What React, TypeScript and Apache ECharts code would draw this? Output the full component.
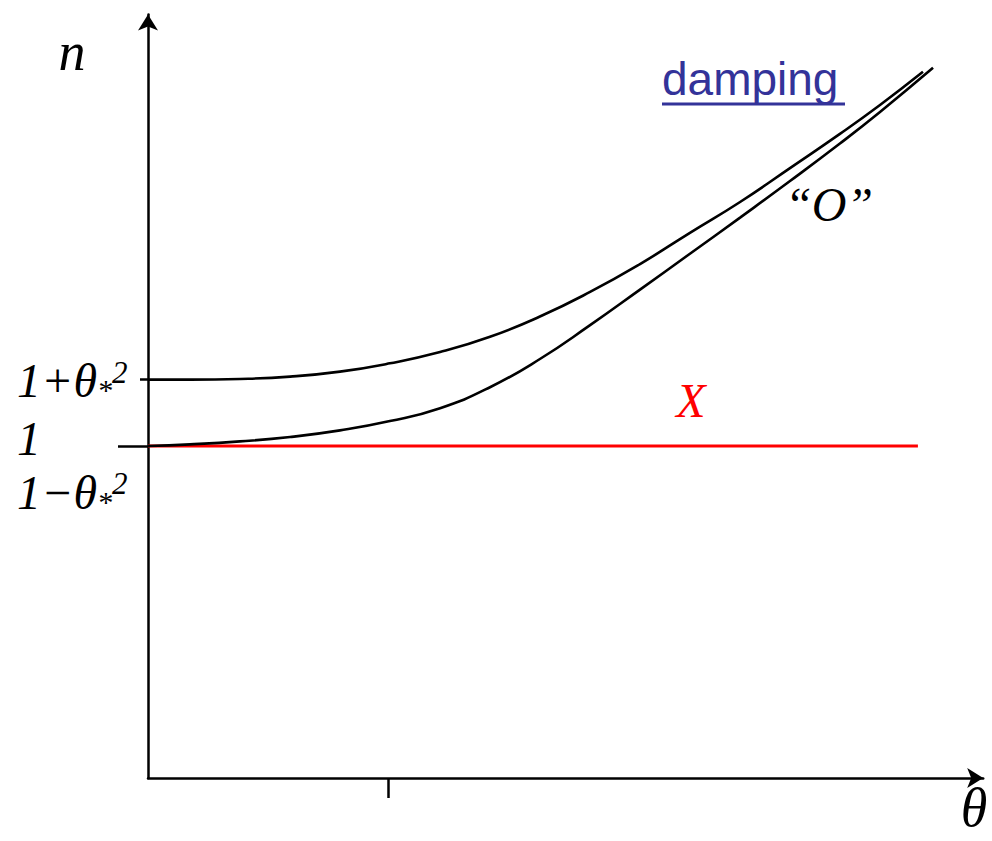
import React, { useEffect, useRef } from "react";
import * as echarts from "echarts";

// Axis extents (θ horizontally, n vertically)
const THETA_MAX = 3.48;
const N_MAX = 2.3;

// Upper curve, starting at n = 1 + θ*²
const upperTheta = [0, 0.175, 0.383, 0.592, 0.8, 1.008, 1.217, 1.425, 1.633, 1.842, 2.05, 2.258, 2.467, 2.675, 2.883, 3.05, 3.229];
const upperN = [1.2, 1.2, 1.202, 1.209, 1.224, 1.249, 1.283, 1.329, 1.39, 1.464, 1.548, 1.642, 1.735, 1.837, 1.94, 2.027, 2.127];

// Lower curve "O", starting at n = 1
const lowerTheta = [0, 0.175, 0.383, 0.592, 0.8, 1.008, 1.217, 1.425, 1.633, 1.842, 2.05, 2.258, 2.467, 2.675, 2.883, 3.05, 3.271];
const lowerN = [1.0, 1.005, 1.014, 1.027, 1.047, 1.075, 1.114, 1.177, 1.262, 1.364, 1.471, 1.579, 1.688, 1.798, 1.911, 2.006, 2.139];

// Flat "X" branch at n = 1
const xBranchTheta = [0, 3.208];
const xBranchN = [1, 1];

// Ticks and tick labels
const thetaTicks = [1];
const nShortTicks = [1.2];
const nLongTicks = [1];
const nLabelValues = [1.197, 1.024, 0.861];
const nLabelTexts = [
  "{m|1+θ}{sub|*}{sup|2}",
  "{m|1}",
  "{m|1−θ}{sub|*}{sup|2}",
];

const SERIF = "'Liberation Serif', 'Times New Roman', serif";
const SANS = "'Liberation Sans', Arial, sans-serif";

const zip = (xs: number[], ys: number[]) => xs.map((x, i) => [x, ys[i]]);

export default function App() {
  const ref = useRef<HTMLDivElement>(null);

  useEffect(() => {
    if (!ref.current) return;
    const chart = echarts.init(ref.current, undefined, { renderer: "svg" });

    const axisStroke = { color: "#000", width: 2.5 };

    chart.setOption({
      animation: false,
      backgroundColor: "#fff",
      grid: { left: 148, top: 14.4, width: 835.2, height: 763.6, containLabel: false },
      xAxis: {
        type: "value",
        min: 0,
        max: THETA_MAX,
        axisLine: {
          show: true,
          lineStyle: axisStroke,
          symbol: ["none", "arrow"],
          symbolSize: [15, 16],
        },
        axisTick: {
          show: true,
          customValues: thetaTicks,
          length: 20,
          inside: false,
          lineStyle: axisStroke,
        },
        axisLabel: { show: false },
        splitLine: { show: false },
      },
      yAxis: [
        {
          type: "value",
          min: 0,
          max: N_MAX,
          axisLine: {
            show: true,
            lineStyle: axisStroke,
            symbol: ["none", "arrow"],
            symbolSize: [15, 16],
          },
          axisTick: {
            show: true,
            customValues: nShortTicks,
            length: 8,
            inside: false,
            lineStyle: axisStroke,
          },
          axisLabel: {
            show: true,
            customValues: nLabelValues,
            align: "left",
            margin: 131,
            formatter: (v: number) => {
              const i = nLabelValues.findIndex((p) => Math.abs(p - v) < 1e-6);
              return i >= 0 ? nLabelTexts[i] : "";
            },
            rich: {
              m: {
                fontFamily: SERIF,
                fontStyle: "italic",
                fontSize: 48,
                lineHeight: 48,
                color: "#000",
              },
              sup: {
                fontFamily: SERIF,
                fontStyle: "italic",
                fontSize: 31,
                lineHeight: 31,
                verticalAlign: "top",
                color: "#000",
              },
              sub: {
                fontFamily: SERIF,
                fontStyle: "italic",
                fontSize: 30,
                lineHeight: 12,
                verticalAlign: "bottom",
                color: "#000",
              },
            },
          },
          splitLine: { show: false },
        },
        {
          type: "value",
          min: 0,
          max: N_MAX,
          position: "left",
          axisLine: { show: false },
          axisTick: {
            show: true,
            customValues: nLongTicks,
            length: 30,
            inside: false,
            lineStyle: axisStroke,
          },
          axisLabel: { show: false },
          splitLine: { show: false },
        },
      ],
      series: [
        {
          type: "line",
          name: "X",
          data: zip(xBranchTheta, xBranchN),
          showSymbol: false,
          lineStyle: { color: "#ff0000", width: 3 },
          z: 2,
        },
        {
          type: "line",
          name: "damping",
          data: zip(upperTheta, upperN),
          smooth: 0.5,
          showSymbol: false,
          lineStyle: { color: "#000", width: 2.6 },
          z: 3,
        },
        {
          type: "line",
          name: "O",
          data: zip(lowerTheta, lowerN),
          smooth: 0.5,
          showSymbol: false,
          lineStyle: { color: "#000", width: 2.6 },
          z: 3,
        },
      ],
      graphic: [
        {
          type: "text",
          x: 72,
          y: 52,
          style: {
            text: "n",
            fontFamily: SERIF,
            fontStyle: "italic",
            fontSize: 54,
            fill: "#000",
            align: "center",
            verticalAlign: "middle",
          },
        },
        {
          type: "text",
          x: 974,
          y: 808,
          style: {
            text: "θ",
            fontFamily: SERIF,
            fontStyle: "italic",
            fontSize: 54,
            fill: "#000",
            align: "center",
            verticalAlign: "middle",
          },
        },
        {
          type: "text",
          x: 662,
          y: 79,
          style: {
            text: "damping",
            fontFamily: SANS,
            fontSize: 46,
            fill: "#333399",
            align: "left",
            verticalAlign: "middle",
          },
        },
        {
          type: "line",
          shape: { x1: 662, y1: 104, x2: 845, y2: 104 },
          style: { stroke: "#333399", lineWidth: 3 },
        },
        {
          type: "text",
          x: 829,
          y: 204,
          style: {
            text: "“O”",
            fontFamily: SERIF,
            fontStyle: "italic",
            fontSize: 48,
            fill: "#000",
            align: "center",
            verticalAlign: "middle",
          },
        },
        {
          type: "text",
          x: 691,
          y: 400,
          style: {
            text: "X",
            fontFamily: SERIF,
            fontStyle: "italic",
            fontSize: 48,
            fill: "#ff0000",
            align: "center",
            verticalAlign: "middle",
          },
        },
      ],
    });

    return () => chart.dispose();
  }, []);

  return (
    <div
      ref={ref}
      style={{ position: "fixed", left: 0, top: 0, width: 992, height: 841 }}
    />
  );
}
